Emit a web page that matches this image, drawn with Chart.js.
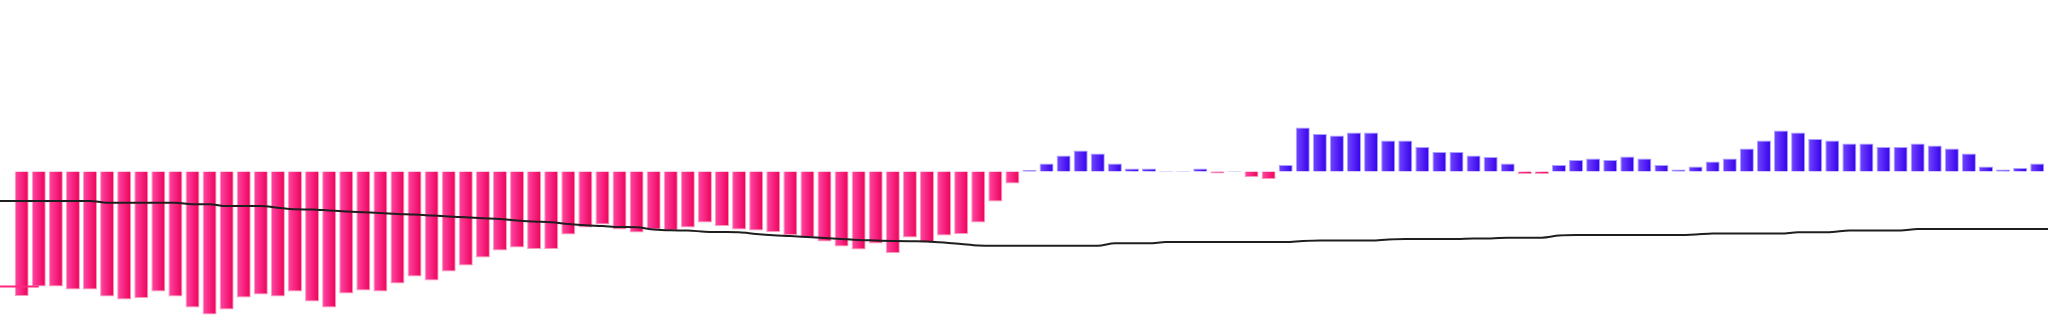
<!DOCTYPE html>
<html>
<head>
<meta charset="utf-8">
<script src="https://cdn.jsdelivr.net/npm/chart.js@4.4.0/dist/chart.umd.min.js"></script>
<style>
  html, body { margin: 0; padding: 0; background: #fff; }
  #wrap { width: 2048px; height: 327px; position: relative; }
</style>
</head>
<body>
<div id="wrap"><canvas id="chart"></canvas></div>
<script>
// histogram values, one per period (period index 0..118)
const histValues = [
    -12.45, -11.5, -11.5, -11.8, -11.8, -12.5, -12.8, -12.65, -12.0, -12.5,
    -13.6, -14.3, -13.8, -12.6, -12.3, -12.5, -12.0, -13.0, -13.6, -12.2,
    -11.9, -12.0, -11.2, -10.5, -10.9, -10.0, -9.4, -8.6, -7.9, -7.6,
    -7.75, -7.75, -6.3, -5.6, -5.3, -5.8, -6.1, -5.8, -5.9, -5.6,
    -5.1, -5.45, -5.8, -5.9, -6.05, -6.35, -6.6, -7.0, -7.5, -7.8,
    -7.2, -8.15, -6.6, -7.1, -6.4, -6.25, -5.1, -3.0, -1.2, 0.15,
    0.8, 1.6, 2.1, 1.8, 0.8, 0.3, 0.3, 0.05, 0.05, 0.3,
    -0.2, 0.05, -0.55, -0.75, 0.65, 4.4, 3.75, 3.6, 3.9, 3.9,
    3.1, 3.1, 2.45, 1.95, 1.95, 1.6, 1.45, 0.8, -0.25, -0.25,
    0.65, 1.15, 1.3, 1.15, 1.5, 1.3, 0.65, 0.2, 0.5, 1.0,
    1.3, 2.3, 3.1, 4.1, 3.9, 3.25, 3.1, 2.8, 2.8, 2.45,
    2.45, 2.8, 2.6, 2.3, 1.8, 0.5, 0.2, 0.35, 0.8
];

// slow line, starts two periods before the first bar
const lineStart = -2;
const lineValues = [
    -2.95, -2.95,
    -2.95, -2.95, -2.95, -2.95, -2.95, -3.12, -3.12, -3.12, -3.12, -3.12,
    -3.28, -3.28, -3.45, -3.45, -3.45, -3.62, -3.78, -3.8, -3.9, -4.0,
    -4.08, -4.15, -4.25, -4.3, -4.4, -4.5, -4.58, -4.67, -4.75, -4.9,
    -5.0, -5.08, -5.25, -5.38, -5.45, -5.55, -5.58, -5.8, -5.88, -5.9,
    -6.02, -6.05, -6.08, -6.25, -6.38, -6.45, -6.55, -6.65, -6.75, -6.85,
    -6.9, -6.95, -6.98, -7.0, -7.1, -7.25, -7.4, -7.42, -7.42, -7.42,
    -7.42, -7.42, -7.42, -7.42, -7.18, -7.18, -7.18, -7.05, -7.05, -7.05,
    -7.05, -7.05, -7.05, -7.05, -7.05, -6.95, -6.9, -6.9, -6.9, -6.9,
    -6.8, -6.75, -6.75, -6.75, -6.75, -6.7, -6.7, -6.62, -6.62, -6.62,
    -6.4, -6.35, -6.35, -6.35, -6.35, -6.35, -6.35, -6.35, -6.3, -6.2,
    -6.2, -6.2, -6.2, -6.2, -6.08, -6.08, -6.05, -5.9, -5.9, -5.9,
    -5.9, -5.75, -5.75, -5.75, -5.75, -5.75, -5.75, -5.75, -5.75,
    -5.75
];
// short signal line at the left edge
const signalValues = [-11.5, -11.5, -11.5, -11.5];

// visible window of periods and values
const xMin = -1.27;
const xMax = 118.63;
const yMin = -15.55;
const yMax = 17.15;

function barFill(ctx) {
    const chart = ctx.chart;
    const up = ctx.raw.y >= 0;
    const xs = chart.scales.x;
    if (!chart.chartArea || !xs) return up ? '#4a14ff' : '#ff1a78';
    const cx = xs.getPixelForValue(ctx.raw.x);
    const g = chart.ctx.createLinearGradient(cx - 7, 0, cx + 7, 0);
    if (up) {
        g.addColorStop(0, 'rgb(115, 70, 255)');
        g.addColorStop(1, 'rgb(52, 0, 235)');
    } else {
        g.addColorStop(0, 'rgb(255, 72, 165)');
        g.addColorStop(1, 'rgb(236, 0, 88)');
    }
    return g;
}

new Chart(document.getElementById('chart'), {
    data: {
        datasets: [
            {
                type: 'line',
                data: lineValues.map((v, i) => ({ x: lineStart + i, y: v })),
                borderColor: '#1e1e1e',
                borderWidth: 2,
                pointRadius: 0,
                cubicInterpolationMode: 'monotone',
                order: 0
            },
            {
                type: 'line',
                data: signalValues.map((v, i) => ({ x: lineStart + i, y: v })),
                borderColor: 'rgb(255, 40, 125)',
                borderWidth: 2,
                pointRadius: 0,
                order: 0
            },
            {
                type: 'bar',
                data: histValues.map((v, i) => ({ x: i, y: v })),
                backgroundColor: barFill,
                borderColor: ctx => ctx.raw.y >= 0 ? 'rgba(150, 145, 255, 0.85)' : 'rgba(245, 120, 165, 0.75)',
                borderWidth: 1,
                grouped: false,
                barPercentage: 0.82,
                categoryPercentage: 1,
                order: 1
            }
        ]
    },
    options: {
        responsive: true,
        maintainAspectRatio: false,
        devicePixelRatio: 1,
        animation: false,
        layout: { padding: 0 },
        plugins: { legend: { display: false }, tooltip: { enabled: false } },
        scales: {
            x: { type: 'linear', display: false, min: xMin, max: xMax, offset: false },
            y: { display: false, min: yMin, max: yMax }
        }
    }
});
</script>
</body>
</html>
